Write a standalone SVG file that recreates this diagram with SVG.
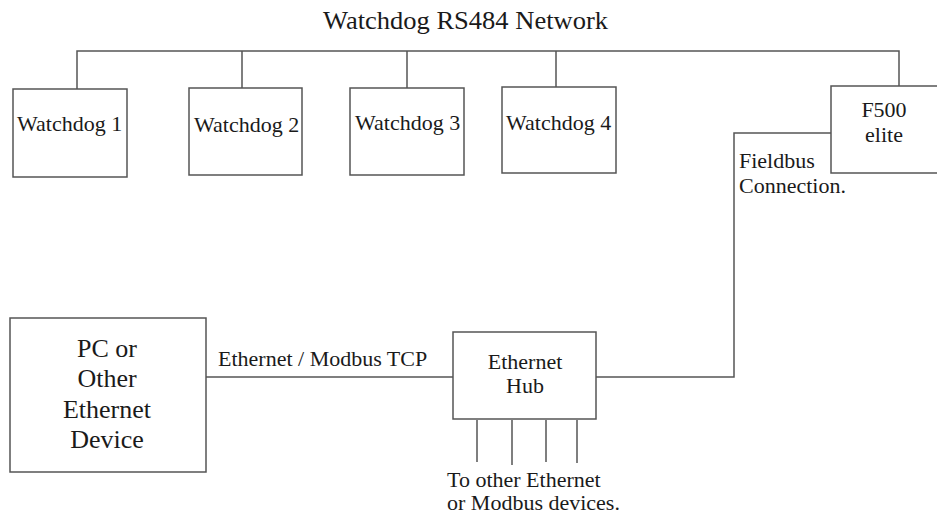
<svg xmlns="http://www.w3.org/2000/svg" width="937" height="516" viewBox="0 0 937 516">
<style>
.box{fill:#fff;stroke:#555;stroke-width:1.5}
.ln{fill:none;stroke:#555;stroke-width:1.5}
text{font-family:"Liberation Serif","Times New Roman",serif;fill:#1a1a1a;font-size:22px}
.c{text-anchor:middle}
.big{font-size:26px}
</style>
<rect width="937" height="516" fill="#fff"/>
<text x="323" y="29" class="big" textLength="285" lengthAdjust="spacingAndGlyphs">Watchdog RS484 Network</text>
<g id="connectors">
<path class="ln" d="M77,89 V51 H899 V87"/>
<path class="ln" d="M242,51 V88"/>
<path class="ln" d="M407,51 V88"/>
<path class="ln" d="M556,51 V87"/>
<path class="ln" d="M831,133 H734 V377 H596"/>
<path class="ln" d="M206,377 H453"/>
<path class="ln" d="M477,420 V462 M512,420 V465 M546,420 V462 M577,420 V463"/>
<text x="218" y="366">Ethernet / Modbus TCP</text>
<text x="739" y="168">Fieldbus</text>
<text x="739" y="193">Connection.</text>
<text x="447" y="487">To other Ethernet</text>
<text x="447" y="510">or Modbus devices.</text>
</g>
<g id="wd1"><rect class="box" x="13" y="89" width="114" height="88"/><text x="17" y="131">Watchdog 1</text></g>
<g id="wd2"><rect class="box" x="189" y="88" width="113" height="87"/><text x="194" y="132">Watchdog 2</text></g>
<g id="wd3"><rect class="box" x="350" y="88" width="114" height="87"/><text x="355" y="130">Watchdog 3</text></g>
<g id="wd4"><rect class="box" x="502" y="87" width="114" height="86"/><text x="506" y="130">Watchdog 4</text></g>
<g id="f500"><rect class="box" x="831" y="86" width="110" height="87"/><text x="884" y="117" class="c">F500</text><text x="884" y="142" class="c">elite</text></g>
<g id="pc"><rect class="box" x="10" y="318" width="196" height="154"/>
<text x="107" y="357" class="c big">PC or</text><text x="107" y="387" class="c big">Other</text><text x="107" y="418" class="c big">Ethernet</text><text x="107" y="448" class="c big">Device</text></g>
<g id="hub"><rect class="box" x="453" y="332" width="143" height="87"/><text x="525" y="369" class="c">Ethernet</text><text x="525" y="393" class="c">Hub</text></g>
</svg>
